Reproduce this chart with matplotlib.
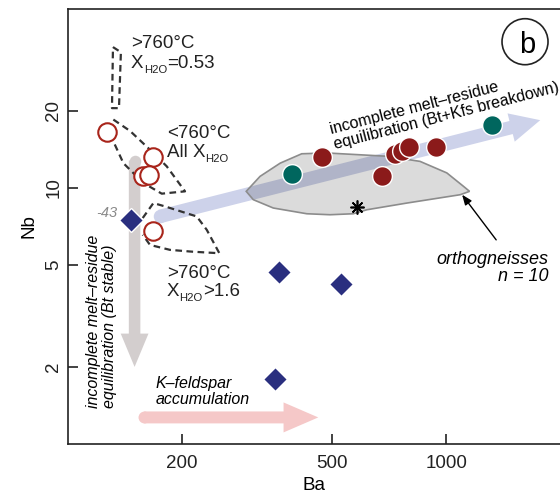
import matplotlib.pyplot as plt
from matplotlib.patches import Polygon, Ellipse, FancyArrowPatch, ArrowStyle

plt.rcParams['font.family'] = ['Liberation Sans', 'DejaVu Sans']

# leucosome / melt samples (Ba, Nb in ppm)
open_ba = [127, 168, 158, 164, 168]
open_nb = [16.5, 13.2, 11.1, 11.2, 6.8]

diam_ba = [147, 362, 528, 353]
diam_nb = [7.5, 4.7, 4.2, 1.79]

red_ba = [469, 677, 733, 765, 798, 941]
red_nb = [13.2, 11.1, 13.6, 14.0, 14.4, 14.4]

teal_ba = [391, 1323]
teal_nb = [11.3, 17.6]

star_ba = [580]
star_nb = [8.4]

# orthogneiss field outline
ortho_ba = [296, 322, 364, 415, 483, 697, 853, 1004, 1111, 1153, 1089, 787,
            617, 568, 493, 428, 349, 309]
ortho_nb = [9.70, 11.1, 12.5, 13.6, 13.7, 13.3, 12.7, 11.45, 10.15, 9.70, 9.41,
            8.73, 8.22, 7.93, 7.86, 7.93, 8.35, 9.00]

# modelled melt fields
f1_ba = [131.5, 138, 136.4, 130.7, 131.5]
f1_nb = [35.5, 33.9, 20.5, 20.5, 35.5]
f2_ba = [131.8, 145.9, 164.8, 182.4, 203.9, 177, 158.2, 140.1, 131.8]
f2_nb = [18.5, 16.7, 14.1, 12.15, 9.70, 9.50, 10.46, 12.5, 15.2]
f3_ba = [157.6, 168.2, 180.6, 219, 232.8, 251.3, 212.5, 186.2, 164.8, 157.6]
f3_nb = [7.63, 8.73, 8.47, 7.74, 6.86, 5.56, 5.64, 5.73, 5.99, 6.56]

# trend arrows: (start, tip)
bt_arrow = [(150, 12.8), (150, 2.0)]
kfs_arrow = [(175, 7.74), (1773, 18.4)]
acc_arrow = [(159, 1.27), (459, 1.27)]

x_ticks = [200, 500, 1000]
y_ticks = [2, 5, 10, 20]

fig = plt.figure(figsize=(5.6, 4.94), dpi=100)
ax = fig.add_axes([68 / 560, 50 / 494, 492 / 560, 435 / 494])
ax.set_xscale('log')
ax.set_yscale('log')
ax.set_xlim(100, 2000)
ax.set_ylim(1, 50)


def trend(p, color, tail, hw, hl):
    a = FancyArrowPatch(p[0], p[1], arrowstyle=ArrowStyle.Simple(head_length=hl, head_width=hw, tail_width=tail),
                        mutation_scale=1, shrinkA=0, shrinkB=0, color=color, lw=0, zorder=1)
    ax.add_patch(a)
    ax.plot(*p[0], 'o', ms=tail, color=color, mec='none', zorder=1)


trend(bt_arrow, '#d3cece', 8.3, 20, 24)
trend(kfs_arrow, '#cdd2ea', 9.7, 21, 21.6)
trend(acc_arrow, '#f5c8c8', 8.6, 21.6, 25)

ax.add_patch(Polygon(list(zip(ortho_ba, ortho_nb)), closed=True, fc=(0, 0, 0, 0.14),
                     ec='#8c8c8c', lw=1.2, zorder=2))

for fb, fn in [(f1_ba, f1_nb), (f2_ba, f2_nb), (f3_ba, f3_nb)]:
    ax.plot(fb, fn, color='#333333', lw=1.6, ls=(0, (3.0, 2.0)), zorder=3)

ax.plot(star_ba, star_nb, marker=(8, 2, 0), ms=10, mew=1.2, color='k', ls='none', zorder=4)
ax.plot(open_ba, open_nb, 'o', ms=13.3, mfc='white', mec='#a8241a', mew=1.5, ls='none', zorder=5)
for b, n in zip(red_ba, red_nb):
    ax.plot(b, n, 'o', ms=14.2, mfc='#8b1a1a', mec='white', mew=1.0, zorder=5)
ax.plot(teal_ba, teal_nb, 'o', ms=14.2, mfc='#00665e', mec='white', mew=1.0, ls='none', zorder=5)
ax.plot(diam_ba, diam_nb, 'D', ms=11.8, mfc='#2a2f7f', mec='white', mew=1.0, ls='none', zorder=6)

ax.annotate('', xy=(1102, 9.41), xytext=(1356, 6.27),
            arrowprops=dict(arrowstyle='-|>,head_length=0.5,head_width=0.2', color='k',
                            lw=1.0, mutation_scale=12, shrinkA=0, shrinkB=0), zorder=6)

# labels
def x_h2o(x, y, head, tail, size=13.5):
    t1 = ax.text(x, y, head + 'X', transform=ax.transAxes, fontsize=size, va='baseline', color='#222222')
    t2 = ax.annotate('H2O', xy=(1, 0), xycoords=t1, xytext=(0.3, -0.8), textcoords='offset points',
                     fontsize=size * 0.6, va='baseline', color='#222222')
    ax.annotate(tail, xy=(1, 0), xycoords=(t2, t1), xytext=(0.3, 0), textcoords='offset points',
                fontsize=size, va='bottom', color='#222222')


ax.text(0.128, 0.9097, '>760°C', transform=ax.transAxes, fontsize=13.5, color='#222222')
x_h2o(0.128, 0.8644, '', '=0.53')
ax.text(0.2006, 0.7028, '<760°C', transform=ax.transAxes, fontsize=13.5, color='#222222')
x_h2o(0.2006, 0.6598, 'All ', '')
ax.text(0.2006, 0.3809, '>760°C', transform=ax.transAxes, fontsize=13.5, color='#222222')
x_h2o(0.2006, 0.3402, '', '>1.6')

ax.text(0.0996, 0.5225, '-43', transform=ax.transAxes, fontsize=10.5, style='italic',
        color='#8a8a8a', ha='right')

# multi-line texts are anchored on the baseline of their last line
ax.text(0.0915, 0.0828, 'incomplete melt\u2013residue\nequilibration (Bt stable)',
        transform=ax.transAxes, fontsize=11.5, style='italic', rotation=90,
        rotation_mode='anchor', ha='left', va='baseline', linespacing=1.1)
ax.text(0.5427, 0.6798, 'incomplete melt\u2013residue\nequilibration (Bt+Kfs breakdown)',
        transform=ax.transAxes, fontsize=11.5, rotation=14.4,
        rotation_mode='anchor', ha='left', va='baseline', linespacing=1.1)
ax.text(0.1782, 0.0943, 'K\u2013feldspar\naccumulation', transform=ax.transAxes,
        fontsize=11.5, style='italic', rotation_mode='anchor', ha='left', va='baseline',
        linespacing=1.1)
ax.text(0.9762, 0.3754, 'orthogneisses\nn = 10', transform=ax.transAxes, fontsize=13,
        style='italic', rotation_mode='anchor', ha='right', va='baseline',
        multialignment='right', linespacing=1.0)

ax.add_patch(Ellipse((0.9289, 0.9248), 46 / 492, 46 / 435, transform=ax.transAxes,
                     fc='none', ec='#222222', lw=1.2, zorder=6))
ax.text(0.9335, 0.8982, 'b', transform=ax.transAxes, fontsize=21, ha='center', va='baseline')

# axes
ax.set_xticks(x_ticks)
ax.set_xticklabels([str(v) for v in x_ticks])
ax.set_yticks(y_ticks)
ax.set_yticklabels([str(v) for v in y_ticks])
ax.minorticks_off()
ax.tick_params(direction='in', length=7, width=1.2, labelsize=13.5, colors='#222222')
ax.tick_params(axis='x', pad=8)
ax.tick_params(axis='y', pad=4, labelrotation=90)
for lab in ax.get_yticklabels():
    lab.set_va('center')
ax.set_xlabel('Ba', fontsize=13.5, labelpad=3.5)
ax.set_ylabel('Nb', fontsize=13.5, labelpad=6)
ax.spines['right'].set_visible(False)
for s in ['top', 'left', 'bottom']:
    ax.spines[s].set_linewidth(1.2)
    ax.spines[s].set_color('#222222')

fig.savefig('out.png', dpi=100)
